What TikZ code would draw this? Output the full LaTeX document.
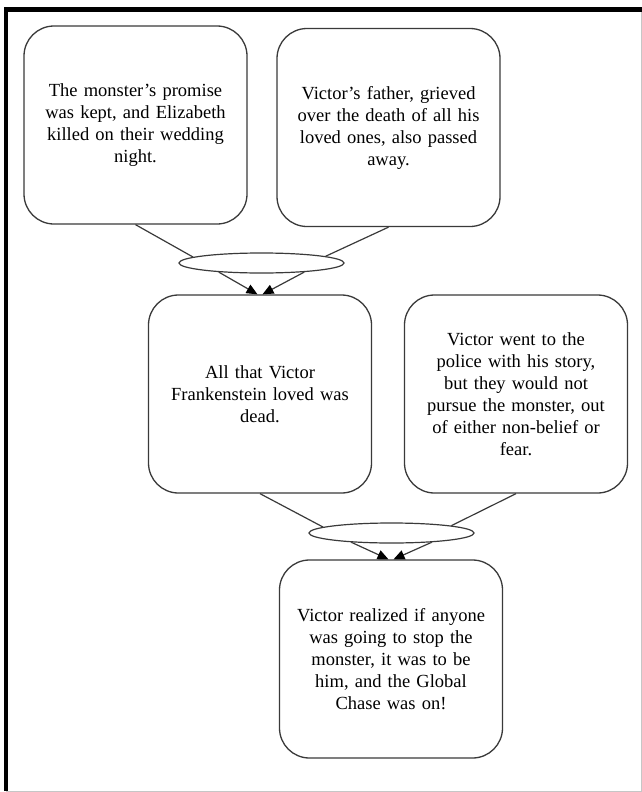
\documentclass[tikz,border=0pt]{standalone}
\usepackage{fontspec}
\setmainfont{Liberation Serif}
\usetikzlibrary{shapes.geometric,arrows.meta}
\definecolor{edge}{HTML}{3A3A3A}
\tikzset{
  event/.style={draw=edge, line width=1.3pt, rounded corners=30pt, fill=white,
    minimum width=223pt, minimum height=198pt, inner sep=0pt,
    align=center, text width=200pt,
    font=\fontsize{18.5}{22}\selectfont},
  joint/.style={ellipse, draw=edge, line width=1.2pt, fill=white,
    minimum width=165pt, minimum height=20pt, inner sep=0pt},
  link/.style={draw=edge, line width=1.2pt},
  flow/.style={link, -{Triangle[length=11pt,width=9.5pt,color=black]}}
}
\begin{document}
\begin{tikzpicture}[x=1pt,y=-1pt]
\useasboundingbox (0,0) rectangle (642,792);
% page frame
\draw[gray!45, line width=1pt] (641,9) -- (641,791) -- (6,791);
\draw[black, line width=4.5pt] (6,791) -- (6,9.5) -- (641.5,9.5);

% events
\node[event] (A) at (135.5,125) {The monster's promise\\was kept, and Elizabeth\\killed on their wedding\\night.};
\node[event] (B) at (388.5,127.5) {Victor's father, grieved\\over the death of all his\\loved ones, also passed\\away.};
\node[event] (C) at (260,394) {All that Victor\\Frankenstein loved was\\dead.};
\node[event] (D) at (516,394) {Victor went to the\\police with his story,\\but they would not\\pursue the monster, out\\of either non-belief or\\fear.};
\node[event] (E) at (391,659) {Victor realized if anyone\\was going to stop the\\monster, it was to be\\him, and the Global\\Chase was on!};

% joins
\node[joint] (J1) at (261.5,263) {};
\node[joint] (J2) at (391.5,533) {};

% connectors into the first join
\draw[link] (A.south) -- (J1.175);
\draw[link] (B.south) -- (J1.6);
\draw[flow] (J1.192) -- ([xshift=-2.5pt]C.north);
\draw[flow] (J1.-12) -- ([xshift=2.5pt]C.north);

% connectors into the second join
\draw[link] (C.south) -- (J2.175);
\draw[link] (D.south) -- (J2.7);
\draw[flow] (J2.193) -- ([xshift=-2.5pt]E.north);
\draw[flow] (J2.-13) -- ([xshift=2.5pt]E.north);
\end{tikzpicture}
\end{document}
